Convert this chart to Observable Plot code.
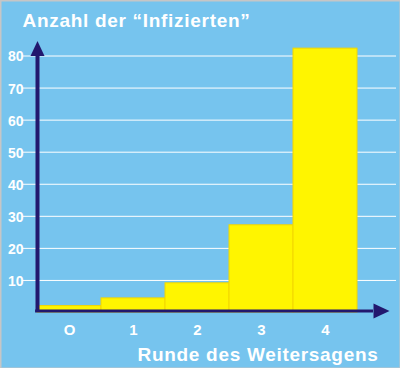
<!DOCTYPE html>
<html><head><meta charset="utf-8">
<script src="https://cdn.jsdelivr.net/npm/d3@7"></script>
<script src="https://cdn.jsdelivr.net/npm/@observablehq/plot@0.6"></script>
<style>body{margin:0;background:#76c4ee}</style>
</head><body><div id="chart"></div>
<script>
// Data
const rounds = [0, 1, 2, 3, 4];
const roundLabels = ["O", "1", "2", "3", "4"];
const infected = [2, 4.4, 9.1, 27.2, 82.3];
const yTicks = [10, 20, 30, 40, 50, 60, 70, 80];
const title = "Anzahl der “Infizierten”";
const xTitle = "Runde des Weitersagens";

// axis extents (in data units)
const yAxisAt = -0.5, yAxisTop = 80;
const xAxisEnd = 4.75;
const gridFrom = -0.73, gridTo = 5.11;

const navy = "#22186e";
const data = rounds.map((r, i) => ({round: r, label: roundLabels[i], value: infected[i]}));

const upHead = {draw(ctx) { ctx.moveTo(0, -15); ctx.lineTo(7, 0); ctx.lineTo(-7, 0); ctx.closePath(); }};
const rightHead = {draw(ctx) { ctx.moveTo(16, 0); ctx.lineTo(0, 7.5); ctx.lineTo(0, -7.5); ctx.closePath(); }};

const font = "'Liberation Sans', Arial, sans-serif";

const chart = Plot.plot({
  width: 400,
  height: 368,
  margin: 0,
  style: {background: "#76c4ee", fontFamily: font},
  x: {type: "linear", domain: [-0.5, 4.5], range: [37, 357], axis: null},
  y: {domain: [0, 80], range: [312, 55.5], axis: null},
  marks: [
    Plot.ruleY(yTicks, {y: d => d, x1: gridFrom, x2: gridTo, stroke: "white", strokeWidth: 1}),
    Plot.rect(data, {x1: d => d.round - 0.5, x2: d => d.round + 0.5, y1: 0, y2: "value",
      fill: "#fff500", stroke: "#f2d600", strokeWidth: 1}),
    Plot.ruleX([yAxisAt], {x: d => d, y1: 0, y2: yAxisTop, stroke: navy, strokeWidth: 4}),
    Plot.ruleY([0], {y: d => d, x1: yAxisAt - 0.03, x2: xAxisEnd, stroke: navy, strokeWidth: 3, dy: -1.5}),
    Plot.dot([[yAxisAt, yAxisTop]], {x: d => d[0], y: d => d[1], symbol: upHead, fill: navy, r: 5}),
    Plot.dot([[xAxisEnd, 0]], {x: d => d[0], y: d => d[1], symbol: rightHead, fill: navy, r: 5, dy: -1.5}),
    Plot.text(yTicks, {y: d => d, text: d => String(d), frameAnchor: "left", dx: 23, dy: 1,
      textAnchor: "end", fill: "white", fontSize: 14, fontWeight: "bold"}),
    Plot.text(data, {x: "round", text: "label", frameAnchor: "bottom", dy: -34, lineAnchor: "bottom",
      fill: "white", fontSize: 15, fontWeight: "bold"}),
    Plot.text([title], {frameAnchor: "top-left", dx: 22, dy: 26, lineAnchor: "bottom", textAnchor: "start",
      fill: "white", fontSize: 19, fontWeight: "bold"}),
    Plot.text([xTitle], {frameAnchor: "bottom-right", dx: -22, dy: -8, lineAnchor: "bottom", textAnchor: "end",
      fill: "white", fontSize: 19, fontWeight: "bold"}),
    Plot.frame({stroke: "#c6c6c6", strokeWidth: 2})
  ]
});
d3.select(chart).selectAll("text")
  .filter(function () { return this.textContent === title || this.textContent === xTitle; })
  .style("letter-spacing", "0.7px");
document.getElementById("chart").appendChild(chart);
</script>
</body></html>
